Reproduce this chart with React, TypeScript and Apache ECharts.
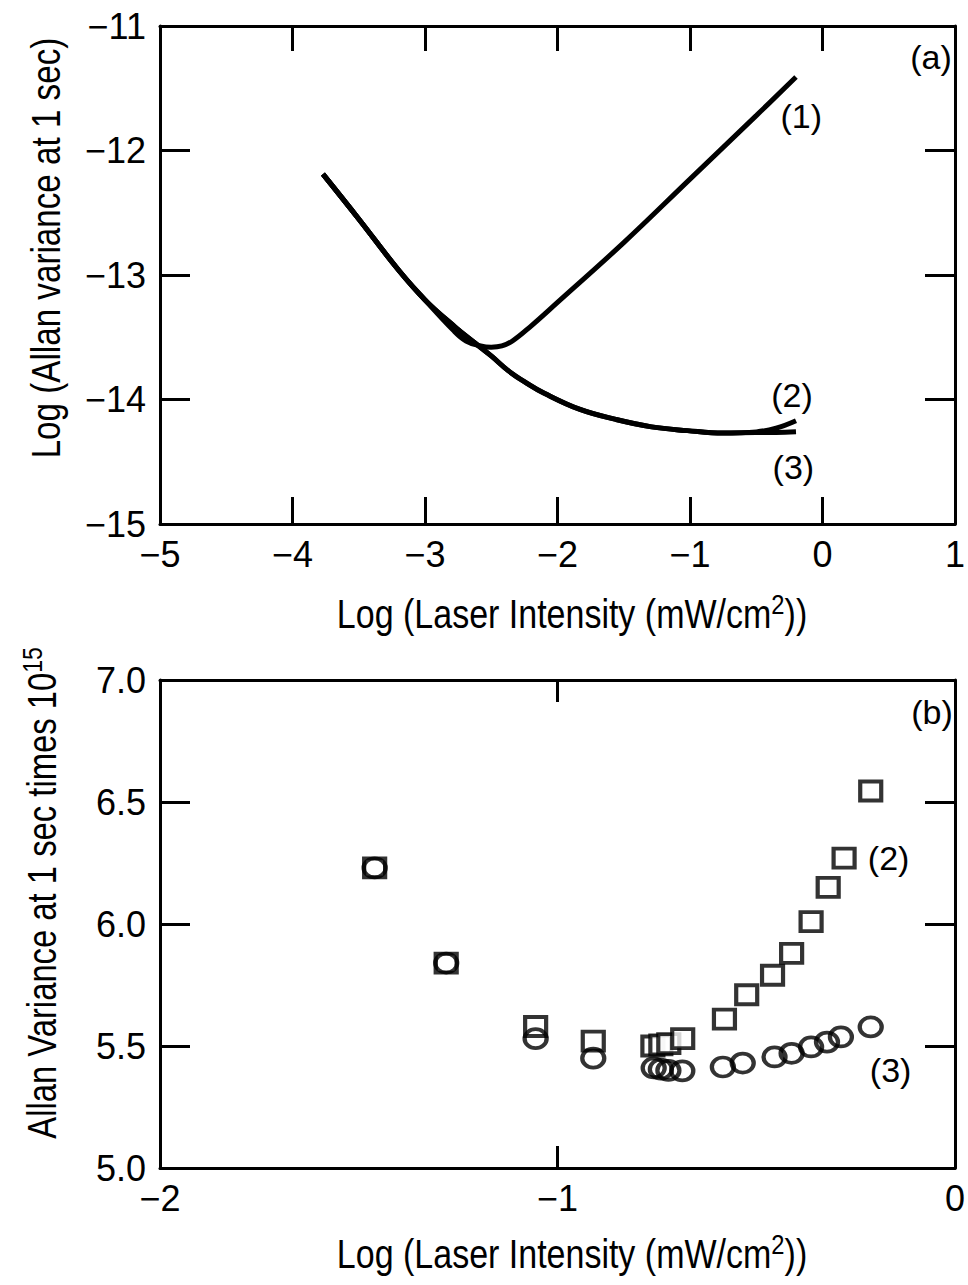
import React, { useEffect, useRef } from 'react';
import * as echarts from 'echarts';

// ---------- Panel (a) data: Log(Allan variance) vs Log(intensity) ----------
const curve1X = [-3.77, -3.5, -3.2, -3.0, -2.79, -2.69, -2.58, -2.5, -2.42, -2.34, -2.2, -2.0, -1.5, -1.0, -0.5, -0.2];
const curve1Y = [-12.19, -12.55, -12.96, -13.2, -13.44, -13.53, -13.57, -13.58, -13.57, -13.53, -13.41, -13.22, -12.74, -12.23, -11.72, -11.41];

const curve2X = [-3.77, -3.5, -3.2, -3.0, -2.77, -2.63, -2.5, -2.37, -2.23, -2.1, -1.83, -1.56, -1.29, -1.02, -0.75, -0.5, -0.35, -0.2];
const curve2Y = [-12.19, -12.55, -12.96, -13.2, -13.42, -13.54, -13.65, -13.77, -13.87, -13.95, -14.08, -14.16, -14.22, -14.25, -14.27, -14.26, -14.23, -14.17];

const curve3X = [-3.77, -3.5, -3.2, -3.0, -2.77, -2.63, -2.5, -2.37, -2.23, -2.1, -1.83, -1.56, -1.29, -1.02, -0.75, -0.5, -0.35, -0.2];
const curve3Y = [-12.19, -12.55, -12.96, -13.2, -13.42, -13.54, -13.65, -13.77, -13.87, -13.95, -14.08, -14.16, -14.22, -14.25, -14.27, -14.265, -14.265, -14.26];

// ---------- Panel (b) data: Allan variance x 1e15 ----------
const squareX = [-1.46, -1.28, -1.055, -0.91, -0.76, -0.74, -0.72, -0.685, -0.58, -0.524, -0.459, -0.411, -0.362, -0.319, -0.279, -0.212];
const squareY = [6.23, 5.84, 5.58, 5.52, 5.5, 5.505, 5.51, 5.53, 5.61, 5.71, 5.79, 5.88, 6.01, 6.15, 6.27, 6.545];

const circleX = [-1.46, -1.28, -1.055, -0.91, -0.758, -0.74, -0.721, -0.686, -0.584, -0.534, -0.454, -0.411, -0.362, -0.322, -0.287, -0.212];
const circleY = [6.23, 5.84, 5.53, 5.45, 5.41, 5.405, 5.4, 5.398, 5.414, 5.43, 5.455, 5.47, 5.496, 5.516, 5.537, 5.578];

// tick values
const topXTicks = [-5, -4, -3, -2, -1, 0, 1];
const topYTicks = [-15, -14, -13, -12, -11];
const botXTicks = [-2, -1, 0];
const botYTicks = [5.0, 5.5, 6.0, 6.5, 7.0];

const FONT = "'Liberation Sans', Arial, sans-serif";
const pairs = (xs: number[], ys: number[]) => xs.map((x, i) => [x, ys[i]]);
const minus = (v: number) => String(v).replace('-', '\u2212');

export default function App() {
  const ref = useRef<HTMLDivElement>(null);
  useEffect(() => {
    const chart = echarts.init(ref.current!, null, { renderer: 'svg' });
    const lineAxis = { show: true, onZero: false, lineStyle: { color: '#000', width: 3 } };
    const tick = (len: number) => ({ show: true, inside: true, length: len, lineStyle: { color: '#000', width: 3 } });
    const lbl = (fmt: (v: number) => string, margin: number) => ({
      show: true, color: '#000', fontSize: 36, fontFamily: FONT, margin, formatter: fmt,
    });
    const noLbl = { show: false };
    const txt = { color: '#000', fontSize: 36, fontFamily: FONT };
    const markLabel = (coord: number[], text: string) => ({
      coord, symbol: 'circle', symbolSize: 1, itemStyle: { color: 'rgba(0,0,0,0)' },
      label: { show: true, position: 'inside', formatter: text, ...txt, fontSize: 34 },
    });
    const ellipse = 'path://M0,9.5A11,9.5 0 1,0 22,9.5A11,9.5 0 1,0 0,9.5Z';
    const sup = { sup: { fontSize: 28, fontFamily: FONT, color: '#000', padding: [0, 0, 20, 0] } };
    const title = (x: number, y: number, text: string, scaleX: number, rotated: boolean) => ({
      type: 'text', x, y, scaleX, rotation: rotated ? Math.PI / 2 : 0,
      style: { text, fontFamily: FONT, fontSize: 40, fill: '#000', textAlign: 'center', textVerticalAlign: 'middle', rich: sup },
    });

    chart.setOption({
      animation: false,
      backgroundColor: '#fff',
      grid: [
        { left: 160, top: 26, width: 802, height: 498, show: false },
        { left: 160, top: 680, width: 802, height: 488, show: false },
      ],
      xAxis: [
        { gridIndex: 0, type: 'value', position: 'bottom', min: topXTicks[0], max: topXTicks[topXTicks.length - 1], interval: 1,
          axisLine: lineAxis, axisTick: tick(27), axisLabel: lbl(minus, 12), splitLine: { show: false } },
        { gridIndex: 0, type: 'value', position: 'top', min: topXTicks[0], max: topXTicks[topXTicks.length - 1], interval: 1,
          axisLine: lineAxis, axisTick: tick(25), axisLabel: noLbl, splitLine: { show: false } },
        { gridIndex: 1, type: 'value', position: 'bottom', min: botXTicks[0], max: botXTicks[botXTicks.length - 1], interval: 1,
          axisLine: lineAxis, axisTick: tick(22), axisLabel: lbl(minus, 12), splitLine: { show: false } },
        { gridIndex: 1, type: 'value', position: 'top', min: botXTicks[0], max: botXTicks[botXTicks.length - 1], interval: 1,
          axisLine: lineAxis, axisTick: tick(22), axisLabel: noLbl, splitLine: { show: false } },
      ],
      yAxis: [
        { gridIndex: 0, type: 'value', position: 'left', min: topYTicks[0], max: topYTicks[topYTicks.length - 1], interval: 1,
          axisLine: lineAxis, axisTick: tick(30), axisLabel: lbl(minus, 14), splitLine: { show: false } },
        { gridIndex: 0, type: 'value', position: 'right', min: topYTicks[0], max: topYTicks[topYTicks.length - 1], interval: 1,
          axisLine: lineAxis, axisTick: tick(30), axisLabel: noLbl, splitLine: { show: false } },
        { gridIndex: 1, type: 'value', position: 'left', min: botYTicks[0], max: botYTicks[botYTicks.length - 1], interval: 0.5,
          axisLine: lineAxis, axisTick: tick(30), axisLabel: lbl((v: number) => v.toFixed(1), 14), splitLine: { show: false } },
        { gridIndex: 1, type: 'value', position: 'right', min: botYTicks[0], max: botYTicks[botYTicks.length - 1], interval: 0.5,
          axisLine: lineAxis, axisTick: tick(30), axisLabel: noLbl, splitLine: { show: false } },
      ],
      series: [
        { type: 'line', xAxisIndex: 0, yAxisIndex: 0, data: pairs(curve2X, curve2Y), smooth: 0.4, showSymbol: false, symbol: 'none',
          lineStyle: { color: '#000', width: 5 }, silent: true,
          markPoint: { silent: true, data: [markLabel([-0.23, -13.96], '(2)')] } },
        { type: 'line', xAxisIndex: 0, yAxisIndex: 0, data: pairs(curve3X, curve3Y), smooth: 0.4, showSymbol: false, symbol: 'none',
          lineStyle: { color: '#000', width: 5 }, silent: true,
          markPoint: { silent: true, data: [markLabel([-0.22, -14.54], '(3)')] } },
        { type: 'line', xAxisIndex: 0, yAxisIndex: 0, data: pairs(curve1X, curve1Y), smooth: 0.4, showSymbol: false, symbol: 'none',
          lineStyle: { color: '#000', width: 5 }, silent: true,
          markPoint: { silent: true, data: [markLabel([-0.16, -11.72], '(1)')] } },
        { type: 'scatter', xAxisIndex: 2, yAxisIndex: 2, data: pairs(squareX, squareY), symbol: 'rect', symbolSize: [21, 19],
          itemStyle: { color: '#fff', borderColor: '#000', borderWidth: 4 }, silent: true,
          markPoint: { silent: true, data: [markLabel([-0.167, 6.27], '(2)')] } },
        { type: 'scatter', xAxisIndex: 2, yAxisIndex: 2, data: pairs(circleX, circleY), symbol: ellipse, symbolSize: [22, 19],
          itemStyle: { color: 'rgba(255,255,255,0)', borderColor: '#000', borderWidth: 4 }, silent: true,
          markPoint: { silent: true, data: [markLabel([-0.162, 5.4], '(3)')] } },
      ],
      graphic: [
        { type: 'text', x: 931, y: 57, style: { text: '(a)', ...txt, fontSize: 34, textAlign: 'center', textVerticalAlign: 'middle', fill: '#000' } },
        { type: 'text', x: 932, y: 712, style: { text: '(b)', ...txt, fontSize: 34, textAlign: 'center', textVerticalAlign: 'middle', fill: '#000' } },
        title(46, 248, 'Log (Allan variance at 1 sec)', 0.83, true),
        title(572, 614, 'Log (Laser Intensity (mW/cm{sup|2}))', 0.85, false),
        title(42, 893, 'Allan Variance at 1 sec times 10{sup|15}', 0.82, true),
        title(572, 1254, 'Log (Laser Intensity (mW/cm{sup|2}))', 0.85, false),
      ],
    });
    return () => chart.dispose();
  }, []);
  return <div ref={ref} style={{ position: 'absolute', left: 0, top: 0, width: 968, height: 1285, background: '#fff' }} />;
}
